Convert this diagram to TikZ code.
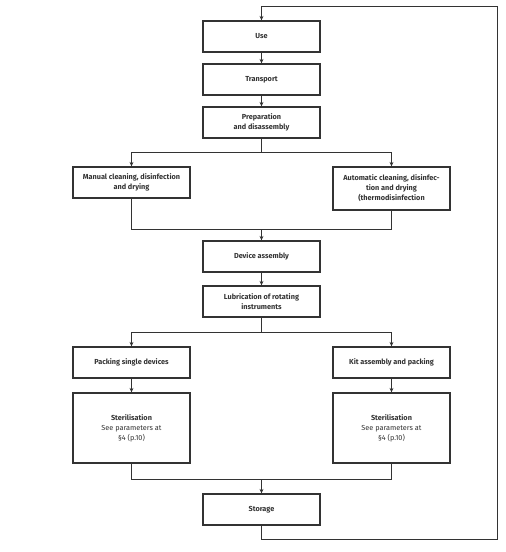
\documentclass[tikz,border=0pt]{standalone}
\usepackage{fontspec}
\setmainfont{Fira Sans}
\usetikzlibrary{arrows.meta}
\definecolor{ink}{HTML}{333333}
\tikzset{
  box/.style={draw=ink, line width=1.3pt, fill=white, minimum width=117pt, align=center,
    text=ink, font=\fontsize{7.3}{10}\selectfont\bfseries, inner sep=2pt},
  conn/.style={draw=ink, line width=0.8pt},
  arr/.style={conn, -{Stealth[length=4.5pt,width=4pt]}},
}
\begin{document}
\begin{tikzpicture}[x=1pt,y=-1pt]
\useasboundingbox (0,0) rectangle (506,552);
\node[box, minimum height=31pt] (use) at (261.5,36.5) {Use};
\node[box, minimum height=31pt] (transport) at (261.5,79.5) {Transport};
\node[box, minimum height=31pt] (prep) at (261.5,122.5) {Preparation\\and disassembly};
\node[box, minimum height=31pt] (manual) at (131.5,182.5) {Manual cleaning, disinfection\\and drying};
\node[box, minimum height=43pt] (auto) at (391.5,188.5) {Automatic cleaning, disinfec-\\tion and drying\\(thermodisinfection};
\node[box, minimum height=31pt] (device) at (261.5,256.5) {Device assembly};
\node[box, minimum height=31pt] (lub) at (261.5,301.5) {Lubrication of rotating\\instruments};
\node[box, minimum height=31pt] (pack) at (131.5,362.5) {Packing single devices};
\node[box, minimum height=31pt] (kit) at (391.5,362.5) {Kit assembly and packing};
\node[box, minimum height=70pt] (sterl) at (131.5,428) {Sterilisation\\{\mdseries See parameters at}\\{\mdseries §4 (p.10)}};
\node[box, minimum height=70pt] (sterr) at (391.5,428) {Sterilisation\\{\mdseries See parameters at}\\{\mdseries §4 (p.10)}};
\node[box, minimum height=31pt] (storage) at (261.5,509.5) {Storage};

\coordinate (b1) at (261.5,152);
\coordinate (m1) at (261.5,229);
\coordinate (b2) at (261.5,332);
\coordinate (m2) at (261.5,479);
\coordinate (lr) at (497,539);
\coordinate (ur) at (497,6);

\draw[arr] (use.south) -- (transport.north);
\draw[arr] (transport.south) -- (prep.north);
\draw[conn] (prep.south) -- (b1);
\draw[arr] (b1) -| (manual.north);
\draw[arr] (b1) -| (auto.north);
\draw[conn] (manual.south) |- (m1);
\draw[conn] (auto.south) |- (m1);
\draw[arr] (m1) -- (device.north);
\draw[arr] (device.south) -- (lub.north);
\draw[conn] (lub.south) -- (b2);
\draw[arr] (b2) -| (pack.north);
\draw[arr] (b2) -| (kit.north);
\draw[arr] (pack.south) -- (sterl.north);
\draw[arr] (kit.south) -- (sterr.north);
\draw[conn] (sterl.south) |- (m2);
\draw[conn] (sterr.south) |- (m2);
\draw[arr] (m2) -- (storage.north);
\draw[arr] (storage.south) |- (lr) -- (ur) -| (use.north);
\end{tikzpicture}
\end{document}
